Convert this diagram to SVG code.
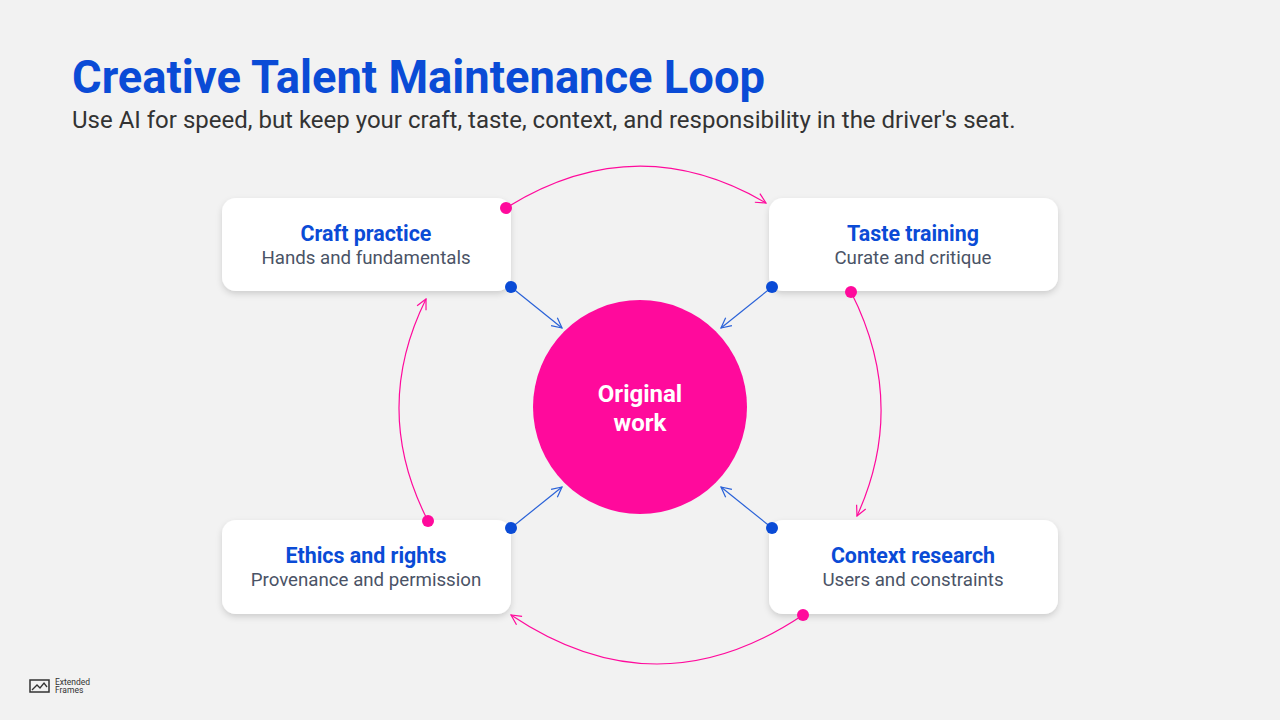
<svg xmlns="http://www.w3.org/2000/svg" width="1280" height="720" viewBox="0 0 1280 720">
<style>
.t{font-family:Roboto,"Liberation Sans",sans-serif}
.h{font-size:21.4px;font-weight:700;fill:#0a4bd6;text-anchor:middle}
.s{font-size:18.7px;fill:#4a5366;text-anchor:middle}
.box{fill:#fff;filter:url(#sh)}
.pk{stroke:#ff0a9c;stroke-width:1.2;fill:none;marker-end:url(#ap)}
.bl{stroke:#2a62d8;stroke-width:1.2;fill:none;marker-end:url(#ab)}
</style>
<defs>
<filter id="sh" x="-10%" y="-20%" width="120%" height="150%"><feDropShadow dx="0" dy="3" stdDeviation="3" flood-color="#000" flood-opacity="0.15"/></filter>
<marker id="ap" viewBox="0 0 12 12" refX="11" refY="6" markerWidth="12" markerHeight="12" markerUnits="userSpaceOnUse" orient="auto"><path d="M1,1 L11,6 L1,11" fill="none" stroke="#ff0a9c" stroke-width="1.2"/></marker>
<marker id="ab" viewBox="0 0 12 12" refX="11" refY="6" markerWidth="12" markerHeight="12" markerUnits="userSpaceOnUse" orient="auto"><path d="M1,1 L11,6 L1,11" fill="none" stroke="#2a62d8" stroke-width="1.2"/></marker>
</defs>
<rect width="1280" height="720" fill="#f2f2f2"/>
<text class="t" x="72" y="93" font-size="45.3" font-weight="700" fill="#0a4bd6">Creative Talent Maintenance Loop</text>
<text class="t" x="72" y="128" font-size="24" fill="#333">Use AI for speed, but keep your craft, taste, context, and responsibility in the driver's seat.</text>
<g id="connectors">
<path class="pk" d="M506,208 Q636,127 766,203"/>
<path class="pk" d="M851,292 Q908,404 857,516"/>
<path class="pk" d="M803,615 Q657,713 511,615"/>
<path class="pk" d="M428,521 Q371,410 426,299"/>
<path class="bl" d="M511,287 L562,328"/>
<path class="bl" d="M772,287 L721,328"/>
<path class="bl" d="M511,528 L562,487"/>
<path class="bl" d="M772,528 L721,487"/>
</g>
<g id="craft"><rect class="box" x="222" y="198" width="289" height="93" rx="14"/><text class="t h" x="366" y="241">Craft practice</text><text class="t s" x="366" y="264">Hands and fundamentals</text></g>
<g id="taste"><rect class="box" x="769" y="198" width="289" height="93" rx="14"/><text class="t h" x="913" y="241">Taste training</text><text class="t s" x="913" y="264">Curate and critique</text></g>
<g id="ethics"><rect class="box" x="222" y="520" width="289" height="94" rx="14"/><text class="t h" x="366" y="563">Ethics and rights</text><text class="t s" x="366" y="586">Provenance and permission</text></g>
<g id="context"><rect class="box" x="769" y="520" width="289" height="94" rx="14"/><text class="t h" x="913" y="563">Context research</text><text class="t s" x="913" y="586">Users and constraints</text></g>
<g id="center"><circle cx="640" cy="407" r="107" fill="#ff0a9c"/><text class="t" x="640" y="402" font-size="24" font-weight="700" fill="#fff" text-anchor="middle">Original</text><text class="t" x="640" y="431" font-size="24" font-weight="700" fill="#fff" text-anchor="middle">work</text></g>
<g id="dots" fill="#ff0a9c">
<circle cx="506" cy="208" r="6"/><circle cx="851" cy="292" r="6"/><circle cx="803" cy="615" r="6"/><circle cx="428" cy="521" r="6"/>
<g fill="#0a4bd6"><circle cx="511" cy="287" r="6"/><circle cx="772" cy="287" r="6"/><circle cx="511" cy="528" r="6"/><circle cx="772" cy="528" r="6"/></g>
</g>
<g id="logo"><rect x="30" y="680" width="19" height="12" fill="none" stroke="#333" stroke-width="1.5"/><path d="M32,690 L37,685 L40,688 L44,683 L47,687" fill="none" stroke="#333" stroke-width="1.3"/>
<text class="t" x="55" y="685" font-size="8.5" fill="#333">Extended</text><text class="t" x="55" y="693" font-size="8.5" fill="#333">Frames</text></g>
</svg>
